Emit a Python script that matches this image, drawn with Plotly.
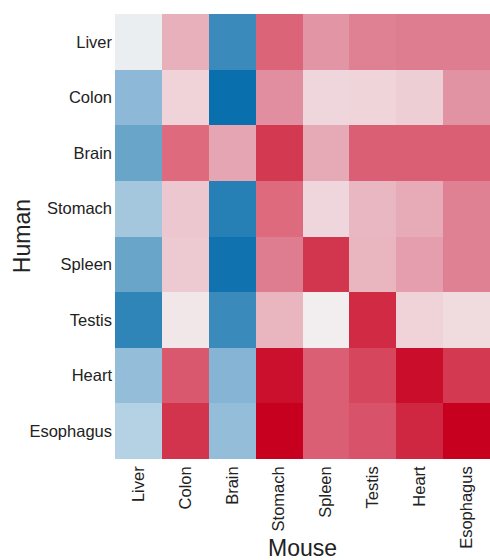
import plotly.graph_objects as go

# Tissue labels for each species
human_tissues = ["Liver", "Colon", "Brain", "Stomach", "Spleen", "Testis", "Heart", "Esophagus"]
mouse_tissues = ["Liver", "Colon", "Brain", "Stomach", "Spleen", "Testis", "Heart", "Esophagus"]

# Cross-species similarity (rows: human tissue, columns: mouse tissue)
sim_liver = [-0.02, 0.35, -0.75, 0.65, 0.47, 0.55, 0.56, 0.56]
sim_colon = [-0.35, 0.20, -1.00, 0.50, 0.18, 0.19, 0.22, 0.48]
sim_brain = [-0.50, 0.63, 0.40, 0.82, 0.38, 0.67, 0.67, 0.67]
sim_stomach = [-0.25, 0.25, -0.85, 0.63, 0.18, 0.32, 0.37, 0.55]
sim_spleen = [-0.50, 0.24, -0.97, 0.56, 0.83, 0.33, 0.43, 0.55]
sim_testis = [-0.80, 0.08, -0.75, 0.33, 0.03, 0.87, 0.20, 0.15]
sim_heart = [-0.32, 0.70, -0.38, 0.95, 0.67, 0.77, 0.96, 0.82]
sim_esophagus = [-0.18, 0.84, -0.32, 1.00, 0.67, 0.72, 0.88, 1.00]

z = [sim_liver, sim_colon, sim_brain, sim_stomach,
     sim_spleen, sim_testis, sim_heart, sim_esophagus]

# Diverging blue-light-red palette
colorscale = [
    [0.000, "#0a6fad"],
    [0.125, "#3a8bbb"],
    [0.250, "#68a5c9"],
    [0.325, "#8db8d8"],
    [0.375, "#a5c7de"],
    [0.410, "#b4d2e4"],
    [0.500, "#f2f2f2"],
    [0.600, "#efd3d9"],
    [0.675, "#e8b0bb"],
    [0.750, "#e08ea0"],
    [0.825, "#dc6478"],
    [0.900, "#d44058"],
    [1.000, "#c8001f"],
]

fig = go.Figure(
    go.Heatmap(
        z=z,
        x=mouse_tissues,
        y=human_tissues,
        zmin=-1,
        zmax=1,
        colorscale=colorscale,
        showscale=False,
    )
)

font_family = "Liberation Sans, Arial, sans-serif"
title_font = dict(family=font_family, size=23, color="#222222")

fig.update_layout(
    width=490,
    height=560,
    margin=dict(l=115, r=0, t=14, b=101),
    paper_bgcolor="white",
    plot_bgcolor="white",
    font=dict(family=font_family, color="#222222"),
    xaxis=dict(
        tickfont=dict(size=16.5),
        tickangle=-90,
        ticklabelstandoff=3,
        automargin=False,
        showgrid=False,
        zeroline=False,
        ticks="",
        ticklen=0,
    ),
    yaxis=dict(
        tickfont=dict(size=16.5),
        ticklabelstandoff=2,
        automargin=False,
        autorange="reversed",
        showgrid=False,
        zeroline=False,
        ticks="",
        ticklen=0,
    ),
    annotations=[
        # axis titles
        dict(text="Mouse", xref="paper", yref="paper", x=0.5, y=-0.2,
             xanchor="center", yanchor="middle", showarrow=False, font=title_font),
        dict(text="Human", xref="paper", yref="paper", x=-0.249, y=0.5,
             xanchor="center", yanchor="middle", textangle=-90,
             showarrow=False, font=title_font),
    ],
)

fig.write_html("out.html")
